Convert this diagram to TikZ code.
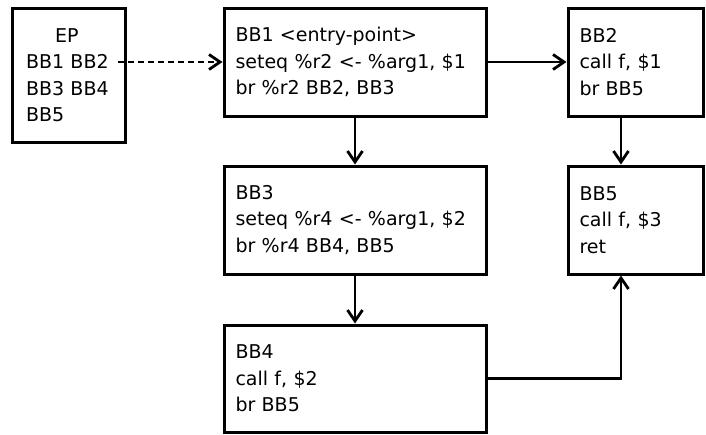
\documentclass[tikz,border=0pt]{standalone}
\usepackage{fontspec}
\setmainfont{DejaVu Sans}
\usetikzlibrary{arrows.meta}
\tikzset{
  blk/.style={draw, line width=3pt, inner ysep=4pt, align=left,
    font=\fontsize{19}{26.5}\selectfont, anchor=center},
  wide/.style={blk, text width=239pt, inner xsep=11.5pt, minimum height=108pt},
  narrow/.style={blk, text width=112pt, inner xsep=11.5pt, minimum height=108pt},
  conn/.style={line width=2.8pt, -{Straight Barb[length=11pt,width=15pt,line width=2.8pt]}},
}
\begin{document}
\begin{tikzpicture}[x=1pt,y=1pt]
\useasboundingbox (0,0) rectangle (706,-434);
\node[blk, text width=85pt, inner xsep=14pt, minimum height=134pt] (EP) at (68.5,-75)
  {\hspace*{29pt}EP\\BB1 BB2\\BB3 BB4\\BB5};
\node[wide] (BB1) at (355,-62) {BB1 <entry-point>\\seteq \%r2 <- \%arg1, \$1\\br \%r2 BB2, BB3};
\node[narrow] (BB2) at (635.5,-62) {BB2\\call f, \$1\\br BB5};
\node[wide] (BB3) at (355,-220) {BB3\\seteq \%r4 <- \%arg1, \$2\\br \%r4 BB4, BB5};
\node[narrow] (BB5) at (635.5,-220) {BB5\\call f, \$3\\ret};
\node[wide, minimum height=107pt] (BB4) at (355,-378.5) {BB4\\call f, \$2\\br BB5};
\coordinate (epout) at (118,-62);
\draw[conn, dash pattern=on 6pt off 4pt] (epout) -- (BB1.west);
\draw[conn] (BB1.east) -- (BB2.west);
\draw[conn] (BB1.south) -- (BB3.north);
\draw[conn] (BB3.south) -- (BB4.north);
\draw[conn] ([xshift=-14.5pt]BB2.south) -- ([xshift=-14.5pt]BB5.north);
\draw[conn] (BB4.east) -| ([xshift=-14.5pt]BB5.south);
\end{tikzpicture}
\end{document}
